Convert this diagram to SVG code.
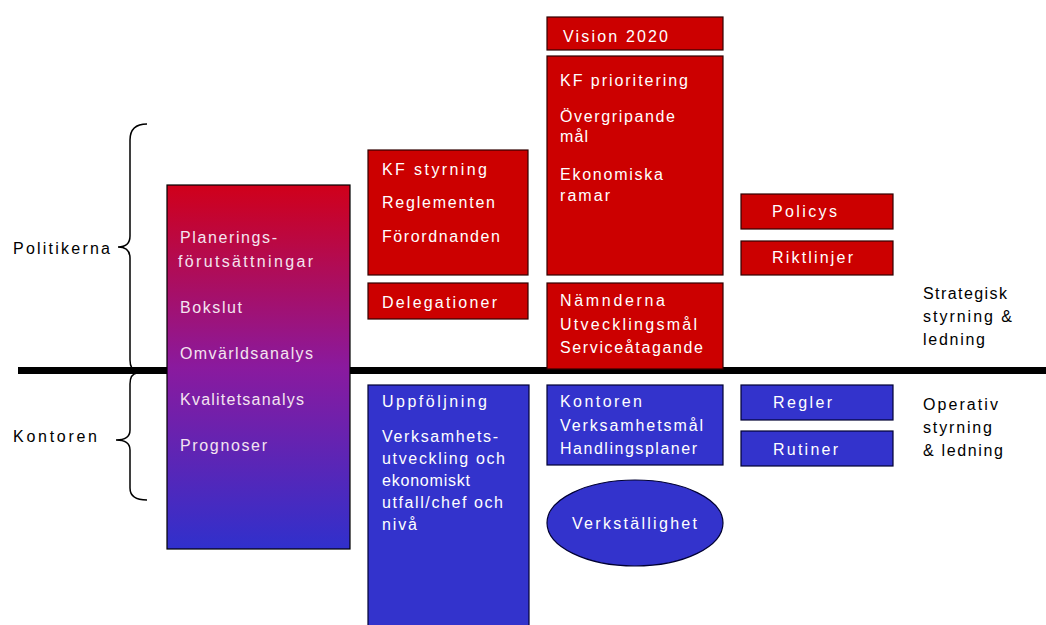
<svg xmlns="http://www.w3.org/2000/svg" width="1046" height="625" viewBox="0 0 1046 625">
<defs>
<linearGradient id="g" x1="0" y1="0" x2="0" y2="1">
<stop offset="0" stop-color="#d0001a"/>
<stop offset="0.5" stop-color="#8a1a9e"/>
<stop offset="1" stop-color="#3030cc"/>
</linearGradient>
</defs>
<style>
text{font-family:"Liberation Sans",Arial,sans-serif;font-size:16px}
.w{fill:#ffffff}
.p{fill:#f4e4f0}
.k{fill:#000000}
.r{fill:#cc0000;stroke:#300000;stroke-width:1.2}
.b{fill:#3333cc;stroke:#000033;stroke-width:1.2}
.br{fill:none;stroke:#000;stroke-width:1.5}
</style>
<rect width="1046" height="625" fill="#ffffff"/>
<g id="braces">
<path class="br" d="M147,124 Q130,124 130,140 L130,236 Q130,247 118,247 Q130,247 130,258 L130,360 Q130,370 137,371"/>
<path class="br" d="M137,373 Q130,374 130,384 L130,430 Q130,440 116,440 Q130,440 130,450 L130,488 Q130,500 147,500"/>
<text class="k" x="13" y="254" textLength="97">Politikerna</text>
<text class="k" x="13" y="442" textLength="84">Kontoren</text>
</g>
<g id="divider">
<rect x="18" y="367" width="1028" height="7" fill="#000"/>
</g>
<g id="planering">
<rect x="167" y="185" width="183" height="364" fill="url(#g)" stroke="#000" stroke-width="1.2"/>
<text class="p" x="180" y="243" textLength="97">Planerings-</text>
<text class="p" x="178" y="267" textLength="135">förutsättningar</text>
<text class="p" x="180" y="313" textLength="62">Bokslut</text>
<text class="p" x="180" y="359" textLength="133">Omvärldsanalys</text>
<text class="p" x="180" y="405" textLength="124">Kvalitetsanalys</text>
<text class="p" x="180" y="451" textLength="87">Prognoser</text>
</g>
<g id="kfstyrning">
<rect class="r" x="368" y="150" width="160" height="125"/>
<text class="w" x="382" y="175" textLength="105">KF styrning</text>
<text class="w" x="382" y="208" textLength="113">Reglementen</text>
<text class="w" x="382" y="242" textLength="118">Förordnanden</text>
</g>
<g id="delegationer">
<rect class="r" x="368" y="283" width="160" height="36"/>
<text class="w" x="382" y="308" textLength="115">Delegationer</text>
</g>
<g id="uppfoljning">
<rect class="b" x="368" y="385" width="161" height="245"/>
<text class="w" x="382" y="407" textLength="105">Uppföljning</text>
<text class="w" x="382" y="442" textLength="116">Verksamhets-</text>
<text class="w" x="382" y="464" textLength="123">utveckling och</text>
<text class="w" x="382" y="486" textLength="88">ekonomiskt</text>
<text class="w" x="382" y="508" textLength="121">utfall/chef och</text>
<text class="w" x="382" y="530" textLength="35">nivå</text>
</g>
<g id="vision">
<rect class="r" x="547" y="17" width="176" height="33"/>
<text class="w" x="563" y="42" textLength="105">Vision 2020</text>
</g>
<g id="kfprioritering">
<rect class="r" x="547" y="56" width="176" height="219"/>
<text class="w" x="560" y="86" textLength="128">KF prioritering</text>
<text class="w" x="560" y="122" textLength="115">Övergripande</text>
<text class="w" x="560" y="142" textLength="28">mål</text>
<text class="w" x="560" y="180" textLength="103">Ekonomiska</text>
<text class="w" x="560" y="201" textLength="50">ramar</text>
</g>
<g id="namnderna">
<rect class="r" x="547" y="283" width="176" height="86"/>
<text class="w" x="560" y="306" textLength="105">Nämnderna</text>
<text class="w" x="560" y="330" textLength="137">Utvecklingsmål</text>
<text class="w" x="560" y="353" textLength="143">Serviceåtagande</text>
</g>
<g id="kontoren">
<rect class="b" x="547" y="385" width="176" height="80"/>
<text class="w" x="560" y="407" textLength="82">Kontoren</text>
<text class="w" x="560" y="431" textLength="143">Verksamhetsmål</text>
<text class="w" x="560" y="454" textLength="137">Handlingsplaner</text>
</g>
<g id="verkstallighet">
<ellipse cx="635" cy="523" rx="88" ry="43" fill="#3333cc" stroke="#000033" stroke-width="1.2"/>
<text class="w" x="572" y="529" textLength="125">Verkställighet</text>
</g>
<g id="policys">
<rect class="r" x="741" y="194" width="152" height="35"/>
<text class="w" x="772" y="217" textLength="65">Policys</text>
</g>
<g id="riktlinjer">
<rect class="r" x="741" y="241" width="152" height="34"/>
<text class="w" x="772" y="263" textLength="81">Riktlinjer</text>
</g>
<g id="regler">
<rect class="b" x="741" y="385" width="152" height="35"/>
<text class="w" x="773" y="408" textLength="59">Regler</text>
</g>
<g id="rutiner">
<rect class="b" x="741" y="431" width="152" height="35"/>
<text class="w" x="773" y="455" textLength="65">Rutiner</text>
</g>
<g id="labels">
<text class="k" x="923" y="299" textLength="84">Strategisk</text>
<text class="k" x="923" y="322" textLength="89">styrning &amp;</text>
<text class="k" x="923" y="345" textLength="62">ledning</text>
<text class="k" x="923" y="410" textLength="75">Operativ</text>
<text class="k" x="923" y="433" textLength="69">styrning</text>
<text class="k" x="923" y="456" textLength="80">&amp; ledning</text>
</g>
</svg>
